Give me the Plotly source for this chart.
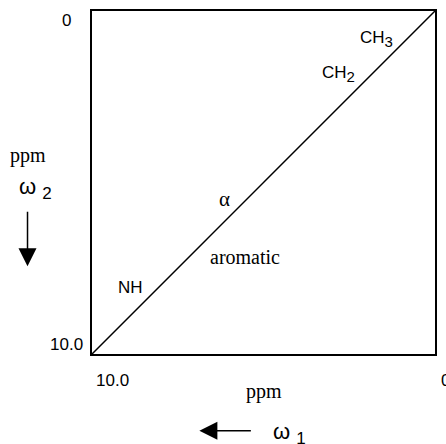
import plotly.graph_objects as go

# Diagonal of the 2D spectrum (ppm)
diag_x = [10.0, 0.0]
diag_y = [10.0, 0.0]

# Axis ends and tick labels
x_tick_vals = [10.0, 0.0]
x_tick_text = ["10.0", "0"]
y_tick_vals = [0.0, 10.0]
y_tick_text = ["0", "10.0"]

# Region labels along the diagonal (omega1 ppm, omega2 ppm)
SUB = "<sub><span style='font-size:15px'>{}</span></sub>"
label_text = ["CH" + SUB.format("3"), "CH" + SUB.format("2"), "α", "aromatic", "NH"]
label_x = [1.72, 2.8, 6.14, 5.54, 8.87]
label_y = [0.82, 1.84, 5.47, 7.18, 8.05]
label_font = ["Liberation Sans", "Liberation Sans", "Liberation Serif", "Liberation Serif", "Liberation Sans"]
label_size = [17, 17, 21, 20, 17]

SANS = "Liberation Sans"
SERIF = "Liberation Serif"

fig = go.Figure()
fig.add_trace(go.Scatter(x=diag_x, y=diag_y, mode="lines",
                         line=dict(color="black", width=1.5),
                         hoverinfo="skip", showlegend=False))

ann = []
for t, x, y, f, s in zip(label_text, label_x, label_y, label_font, label_size):
    ann.append(dict(x=x, y=y, xref="x", yref="y", text=t, showarrow=False,
                    font=dict(family=f, size=s, color="black")))

# x tick labels (below the frame)
ann.append(dict(x=x_tick_vals[0], y=-0.076, xref="x", yref="paper", text=x_tick_text[0],
                showarrow=False, xanchor="left", yanchor="middle", xshift=2,
                font=dict(family=SANS, size=17, color="black")))
ann.append(dict(x=x_tick_vals[1], y=-0.076, xref="x", yref="paper", text=x_tick_text[1],
                showarrow=False, xanchor="left", yanchor="middle", xshift=4,
                font=dict(family=SANS, size=17, color="black")))
# y tick labels (left of the frame)
ann.append(dict(x=0, y=y_tick_vals[0], xref="paper", yref="y", text=y_tick_text[0],
                showarrow=False, xanchor="right", yanchor="middle", xshift=-19, yshift=-9,
                font=dict(family=SANS, size=17, color="black")))
ann.append(dict(x=0, y=y_tick_vals[1], xref="paper", yref="y", text=y_tick_text[1],
                showarrow=False, xanchor="right", yanchor="middle", xshift=-7, yshift=10,
                font=dict(family=SANS, size=17, color="black")))

# axis titles
ann.append(dict(x=0.501, y=-0.11, xref="paper", yref="paper", text="ppm", showarrow=False,
                xanchor="center", yanchor="middle", font=dict(family=SERIF, size=20, color="black")))
ann.append(dict(x=-0.186, y=0.578, xref="paper", yref="paper", text="ppm", showarrow=False,
                xanchor="center", yanchor="middle", font=dict(family=SERIF, size=20, color="black")))
ann.append(dict(x=0.522, y=-0.233, xref="paper", yref="paper",
                text="ω <sub><span style='font-size:17px'>1</span></sub>", showarrow=False,
                xanchor="left", yanchor="middle", font=dict(family=SANS, size=22, color="black")))
ann.append(dict(x=-0.22, y=0.483, xref="paper", yref="paper",
                text="ω <sub><span style='font-size:17px'>2</span></sub>", showarrow=False,
                xanchor="left", yanchor="middle", font=dict(family=SANS, size=22, color="black")))

# direction arrows
ann.append(dict(x=0.313, y=-0.224, xref="paper", yref="paper", text="", showarrow=True,
                ax=53, ay=0, axref="pixel", ayref="pixel",
                arrowhead=2, arrowsize=2.4, arrowwidth=1.5, arrowcolor="black"))
ann.append(dict(x=-0.188, y=0.256, xref="paper", yref="paper", text="", showarrow=True,
                ax=0, ay=-56, axref="pixel", ayref="pixel",
                arrowhead=2, arrowsize=2.4, arrowwidth=1.5, arrowcolor="black"))

axis_style = dict(showgrid=False, zeroline=False, showticklabels=False, ticks="",
                  showline=True, mirror=True, linecolor="black", linewidth=2, fixedrange=True)

fig.update_layout(
    width=446, height=444,
    margin=dict(l=92, r=9, t=10, b=90),
    paper_bgcolor="white", plot_bgcolor="white",
    xaxis=dict(range=[10, 0], **axis_style),
    yaxis=dict(range=[10, 0], **axis_style),
    annotations=ann,
    showlegend=False,
)

fig.write_html("out.html", config={"displayModeBar": False},
               post_script="document.body.style.margin='0px';document.body.style.overflow='hidden';")
